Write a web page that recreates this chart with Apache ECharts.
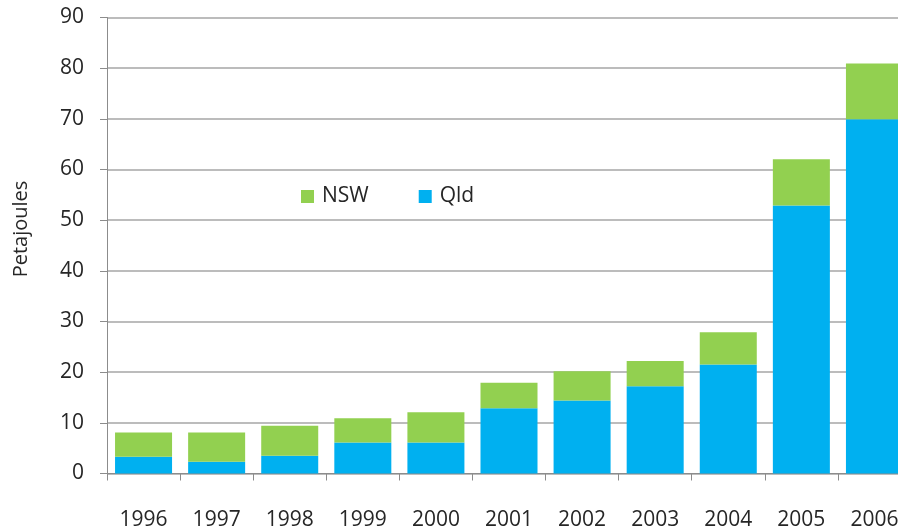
<!DOCTYPE html>
<html>
<head>
<meta charset="utf-8">
<script src="https://cdn.jsdelivr.net/npm/echarts@6/dist/echarts.min.js"></script>
<style>html,body{margin:0;padding:0;background:#fff;overflow:hidden;width:898px;height:528px}#c{width:911px;height:528px}</style>
</head>
<body>
<div id="c"></div>
<script>
const years = ['1996','1997','1998','1999','2000','2001','2002','2003','2004','2005','2006'];
const qld = [3.3, 2.3, 3.5, 6.1, 6.1, 12.9, 14.4, 17.2, 21.5, 52.9, 69.9];
const nsw = [4.8, 5.8, 5.9, 4.8, 6.0, 5.0, 5.8, 5.0, 6.4, 9.1, 11.0];
const yTicks = [0, 10, 20, 30, 40, 50, 60, 70, 80, 90];
const yTitle = 'Petajoules';

const font = '"Open Sans", sans-serif';
const txt = '#262626';
const chart = echarts.init(document.getElementById('c'));
chart.setOption({
  animation: false,
  textStyle: { fontFamily: font },
  legend: {
    data: ['NSW', 'Qld'],
    left: 301, top: 186, padding: 0,
    itemWidth: 13, itemHeight: 13, itemGap: 50,
    icon: 'rect',
    textStyle: { fontSize: 21, color: txt, fontFamily: font, padding: [0, 0, 0, 3] }
  },
  graphic: [{
    type: 'text', x: 21, y: 229, rotation: Math.PI / 2,
    style: { text: yTitle, fontSize: 20, fill: txt, fontFamily: font,
             textAlign: 'center', textVerticalAlign: 'middle' }
  }],
  grid: { left: 107, top: 17.5, bottom: 54.5, right: 0, containLabel: false, outerBoundsMode: 'none' },
  xAxis: {
    type: 'category',
    data: years,
    axisLine: { lineStyle: { color: '#8c8c8c', width: 1 } },
    axisTick: { show: true, length: 7, lineStyle: { color: '#8c8c8c' } },
    axisLabel: { fontSize: 21, color: txt, margin: 36, fontFamily: font }
  },
  yAxis: {
    type: 'value',
    min: yTicks[0], max: yTicks[yTicks.length - 1], interval: 10,
    axisLine: { show: true, lineStyle: { color: '#8c8c8c' } },
    axisTick: { show: true, length: 7, lineStyle: { color: '#8c8c8c' } },
    axisLabel: { fontSize: 21, color: txt, margin: 23, fontFamily: font },
    splitLine: { show: true, lineStyle: { color: '#a6a6a6', width: 1.5 } }
  },
  series: [
    { name: 'Qld', type: 'bar', stack: 't', data: qld, barCategoryGap: '22%',
      itemStyle: { color: '#00B0F0' } },
    { name: 'NSW', type: 'bar', stack: 't', data: nsw, barCategoryGap: '22%',
      itemStyle: { color: '#92D050' } }
  ]
});
</script>
</body>
</html>
